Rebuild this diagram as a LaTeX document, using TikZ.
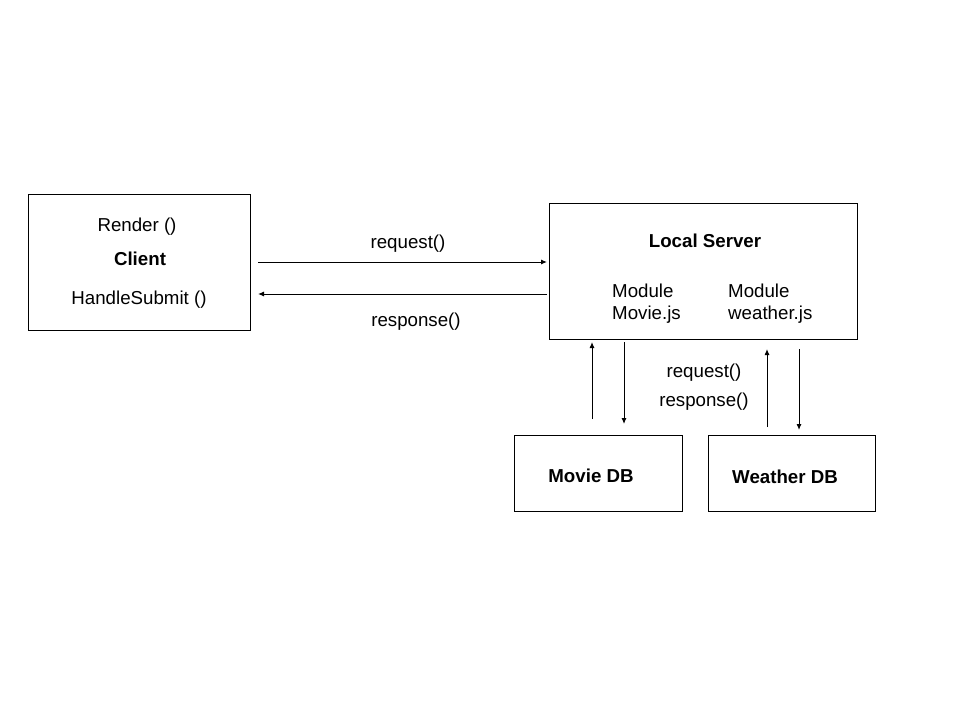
\documentclass[tikz,border=0pt]{standalone}
\usepackage{fontspec}
\setmainfont{Liberation Sans}
\usetikzlibrary{arrows.meta}
\begin{document}
\begin{tikzpicture}[x=1pt,y=-1pt,
  box/.style={draw,line width=1pt},
  lbl/.style={font=\fontsize{18.7}{22}\selectfont,inner sep=0pt,yshift=-2.5pt},
  blbl/.style={font=\fontsize{18.7}{22}\selectfont\bfseries,inner sep=0pt,yshift=-2.5pt},
  arr/.style={line width=1pt,-{Latex[length=6pt,width=5pt]}}]
\useasboundingbox (0,0) rectangle (960,720);
\fill[white] (0,0) rectangle (960,720);
% boxes
\draw[box] (28,194) rectangle (250,330);
\draw[box] (549,203) rectangle (857,339);
\draw[box] (514,435) rectangle (682,511);
\draw[box] (708,435) rectangle (875,511);
% client texts
\node[lbl] (render) at (137,224) {Render ()};
\node[blbl] (client) at (140,256) {Client};
\node[lbl] (handle) at (139,297) {HandleSubmit ()};
% server texts
\node[blbl] (server) at (705,238) {Local Server};
\node[lbl,anchor=west,align=left] (movmod) at (612,301) {Module\\[0.5pt]Movie.js};
\node[lbl,anchor=west,align=left] (weamod) at (728,301) {Module\\[0.5pt]weather.js};
% db texts
\node[blbl] (moviedb) at (591,473) {Movie DB};
\node[blbl] (weatherdb) at (785,474) {Weather DB};
% labels
\node[lbl] (req1) at (408,241) {request()};
\node[lbl] (resp1) at (416,319) {response()};
\node[lbl] (req2) at (704,370) {request()};
\node[lbl] (resp2) at (704,399) {response()};
% connector coordinates
\coordinate (a1) at (258,262); \coordinate (a2) at (547,262);
\coordinate (b1) at (547,294); \coordinate (b2) at (258,294);
\coordinate (c1) at (592,419); \coordinate (c2) at (592,342);
\coordinate (d1) at (624,342); \coordinate (d2) at (624,424);
\coordinate (e1) at (767,427); \coordinate (e2) at (767,349);
\coordinate (f1) at (799,349); \coordinate (f2) at (799,430);
\draw[arr] (a1) -- (a2);
\draw[arr] (b1) -- (b2);
\draw[arr] (c1) -- (c2);
\draw[arr] (d1) -- (d2);
\draw[arr] (e1) -- (e2);
\draw[arr] (f1) -- (f2);
\end{tikzpicture}
\end{document}
